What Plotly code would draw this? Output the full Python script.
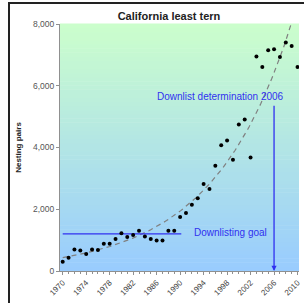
import numpy as np
import plotly.graph_objects as go

years = list(range(1970, 2011))
pairs = [300, 430, 700, 660, 550, 700, 680, 880, 880, 1040,
         1225, 1100, 1170, 1300, 1115, 1040, 985, 985, 1300, 1300,
         1745, 1875, 2145, 2360, 2815, 2655, 3410, 4070, 4225, 3600,
         4745, 4910, 3680, 6945, 6607, 7150, 7180, 6930, 7400, 7290, 6607]
goal_value = 1200
goal_years = [1970, 1990.2]
determination_year = 2006
determination_top = 5400
x_ticks = list(range(1970, 2011, 4))
y_ticks = [0, 2000, 4000, 6000, 8000]

# exponential trend line (least squares on log values)
b, a = np.polyfit(np.array(years) - 1970, np.log(pairs), 1)
trend_x = np.linspace(1970, 2010, 200)
trend_y = np.exp(a + b * (trend_x - 1970))

FONT = "Arial, Liberation Sans, sans-serif"
BLUE = "#3030f0"

fig = go.Figure()

fig.add_trace(go.Scatter(x=trend_x, y=trend_y, mode="lines",
                         line=dict(color="#808080", width=1.2, dash="5px,4px"),
                         hoverinfo="skip", showlegend=False))
fig.add_trace(go.Scatter(x=goal_years, y=[goal_value, goal_value], mode="lines",
                         line=dict(color=BLUE, width=1.3), showlegend=False))
fig.add_trace(go.Scatter(x=years, y=pairs, mode="markers",
                         marker=dict(color="black", size=4), showlegend=False))

# gradient background (green top -> blue bottom)
shapes = []
n = 60
top = np.array([204, 255, 204])
bot = np.array([153, 204, 255])
for i in range(n):
    f = (i + 0.5) / n
    c = bot + (top - bot) * f
    shapes.append(dict(type="rect", xref="paper", yref="paper",
                       x0=0, x1=1, y0=i / n, y1=(i + 1) / n + 0.002,
                       fillcolor=f"rgb({int(c[0])},{int(c[1])},{int(c[2])})",
                       line=dict(width=0), layer="below"))
# outer frame (cropped)
PW, PH = 239, 247
shapes.append(dict(type="rect", xref="paper", yref="paper",
                   x0=(9 - 60) / PW, x1=2.0, y0=-2.0, y1=(271 - 3) / PH,
                   line=dict(color="#222222", width=2), fillcolor="rgba(0,0,0,0)",
                   layer="above"))

fig.update_layout(
    width=304, height=303,
    margin=dict(l=60, r=5, t=24, b=32, autoexpand=False),
    paper_bgcolor="white",
    plot_bgcolor="rgba(0,0,0,0)",
    shapes=shapes,
    font=dict(family=FONT, size=7, color="#444444"),
    title=dict(text="<b>California least tern</b>", x=169 / 304, xanchor="center",
               y=1 - 16 / 303, yanchor="middle", yref="container",
               font=dict(family=FONT, size=11, color="#222222")),
    xaxis=dict(range=[1969.54, 2010.25], tickmode="array", tickvals=x_ticks,
               ticktext=[str(t) for t in x_ticks], tickangle=-45, automargin=False,
               showgrid=False, zeroline=False, showline=True,
               linecolor="#909090", linewidth=1,
               ticks="outside", ticklen=3, tickcolor="#909090",
               minor=dict(dtick=1, tick0=1970, ticks="outside", ticklen=2,
                          tickcolor="#909090"),
               tickfont=dict(size=8, color="#444444")),
    yaxis=dict(range=[0, 8000], tickvals=y_ticks, tickformat=",", automargin=False,
               showgrid=False, zeroline=False, showline=True,
               linecolor="#909090", linewidth=1,
               ticks="outside", ticklen=3, tickcolor="#909090",
               tickfont=dict(size=8.5, color="#555555"),
               title=dict(text="<b>Nesting pairs</b>", standoff=10,
                          font=dict(size=8, color="#222222"))),
    annotations=[
        dict(x=determination_year, y=0, ax=determination_year, ay=determination_top,
             xref="x", yref="y", axref="x", ayref="y", showarrow=True,
             arrowhead=2, arrowsize=0.8, arrowwidth=1.3, arrowcolor=BLUE, text=""),
        dict(x=1998.6, y=1250, xref="x", yref="y", text="Downlisting goal",
             showarrow=False, font=dict(family=FONT, size=10, color=BLUE)),
        dict(x=1996.9, y=5650, xref="x", yref="y", text="Downlist determination 2006",
             showarrow=False, font=dict(family=FONT, size=10, color=BLUE)),
    ],
)

fig.write_html("out.html", config={"displayModeBar": False},
               post_script="document.body.style.margin='0';document.body.style.overflow='hidden';")
